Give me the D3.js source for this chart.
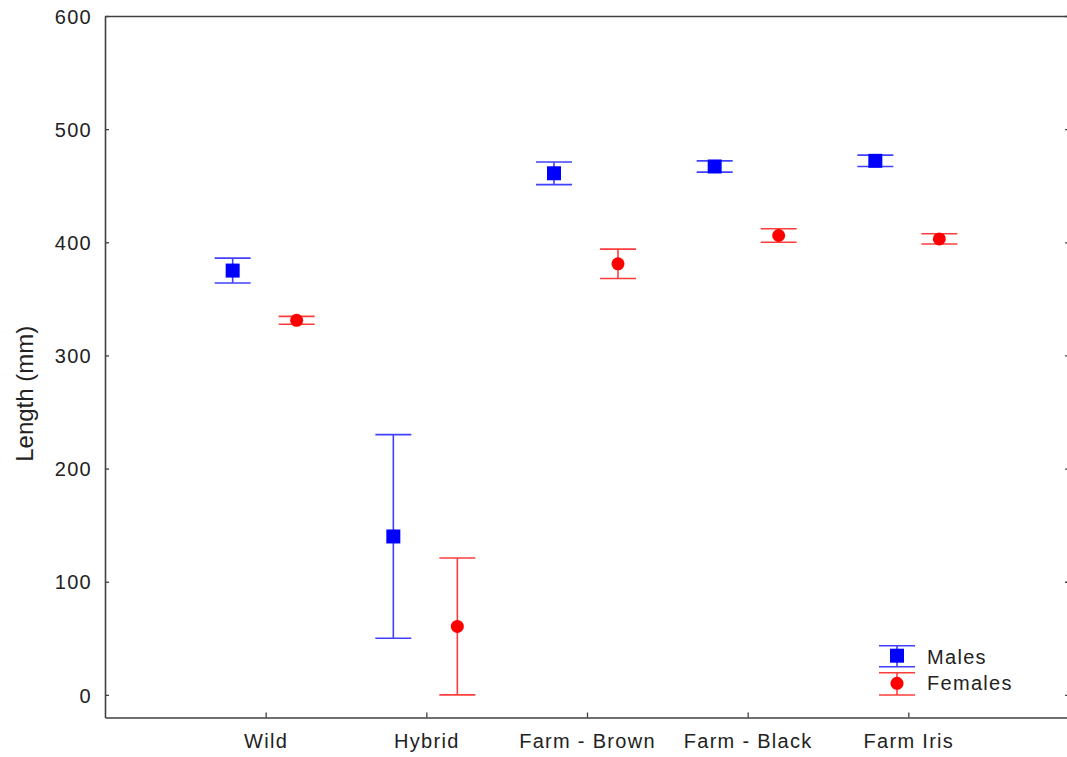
<!DOCTYPE html>
<html>
<head>
<meta charset="utf-8">
<script src="https://cdn.jsdelivr.net/npm/d3@7"></script>
<style>
  html, body { margin: 0; padding: 0; background: #fff; }
  svg { display: block; }
  text { font-family: "Liberation Sans", Arial, sans-serif; fill: #222; }
</style>
</head>
<body>
<script>
// Body length by fish origin and sex: mean ± error
const categories = ["Wild", "Hybrid", "Farm - Brown", "Farm - Black", "Farm Iris"];
const maleMean   = [375, 140, 461, 467, 472];
const maleErr    = [11, 90, 10, 5, 5];
const femaleMean = [331, 60.5, 381, 406, 403];
const femaleErr  = [3.5, 60.5, 13, 6, 4.5];
const yTicks     = [0, 100, 200, 300, 400, 500, 600];
const yLabel     = "Length (mm)";
const seriesNames = ["Males", "Females"];

const W = 1067, H = 757;
const m = { left: 105, right: 1069, top: 16, bottom: 717.5 };

const svg = d3.select("body").append("svg")
  .attr("width", W).attr("height", H);

const x = d3.scalePoint().domain(categories).range([m.left, m.right]).padding(1);
const y = d3.scaleLinear().domain([-20, 600]).range([m.bottom, m.top]);

const frameColor = "#404040";
const tickFont = { size: "20px", spacing: "1.3px" };

// Axes with inward ticks
const gLeft = svg.append("g").attr("transform", `translate(${m.left},0)`)
  .call(d3.axisLeft(y).tickValues(yTicks).tickSize(-4).tickPadding(13).tickSizeOuter(0));
const gRight = svg.append("g").attr("transform", `translate(${m.right},0)`)
  .call(d3.axisRight(y).tickValues(yTicks).tickSize(-4).tickFormat("").tickSizeOuter(0));
const gBottom = svg.append("g").attr("transform", `translate(0,${m.bottom})`)
  .call(d3.axisBottom(x).tickSize(-5).tickPadding(16).tickSizeOuter(0));
const gTop = svg.append("g").attr("transform", `translate(0,${m.top})`)
  .call(d3.axisTop(x).tickValues([]).tickSizeOuter(0));

[gLeft, gRight, gBottom, gTop].forEach(g => {
  g.selectAll(".domain").attr("stroke", frameColor).attr("stroke-width", 1.6);
  g.selectAll(".tick line").attr("stroke", frameColor).attr("stroke-width", 1.3);
  g.selectAll("text")
    .style("font-family", '"Liberation Sans", Arial, sans-serif')
    .style("font-size", tickFont.size)
    .style("letter-spacing", tickFont.spacing)
    .attr("fill", "#222");
});
gLeft.selectAll("text").attr("dy", "0.36em");

// Y axis title
svg.append("text")
  .attr("transform", `translate(33,${(y(600) + y(-20)) / 2 + 27}) rotate(-90)`)
  .attr("text-anchor", "middle")
  .style("font-size", "24px")
  .text(yLabel);

const series = [
  { name: seriesNames[0], mean: maleMean, err: maleErr, dx: -33,
    line: "#4040ff", fill: "#0000ff", shape: "square" },
  { name: seriesNames[1], mean: femaleMean, err: femaleErr, dx: 31,
    line: "#ff3c3c", fill: "#ff0000", shape: "circle" }
];

const capHalf = 18;

function drawMarker(g, s, cx, cy) {
  if (s.shape === "square") {
    g.append("rect").attr("x", cx - 7).attr("y", cy - 7)
      .attr("width", 14).attr("height", 14).attr("fill", s.fill);
  } else {
    g.append("circle").attr("cx", cx).attr("cy", cy).attr("r", 6.5).attr("fill", s.fill);
  }
}

function drawErrorBar(g, s, cx, yHi, yLo) {
  g.append("line").attr("x1", cx).attr("x2", cx).attr("y1", yHi).attr("y2", yLo)
    .attr("stroke", s.line).attr("stroke-width", 1.6);
  [yHi, yLo].forEach(yy => g.append("line")
    .attr("x1", cx - capHalf).attr("x2", cx + capHalf).attr("y1", yy).attr("y2", yy)
    .attr("stroke", s.line).attr("stroke-width", 1.6));
}

series.forEach(s => {
  const g = svg.append("g").attr("class", "series");
  categories.forEach((c, i) => {
    const cx = x(c) + s.dx;
    drawErrorBar(g, s, cx, y(s.mean[i] + s.err[i]), y(s.mean[i] - s.err[i]));
    drawMarker(g, s, cx, y(s.mean[i]));
  });
});

// Legend
const legend = svg.append("g").attr("transform", "translate(897,0)");
const legendRows = [
  { top: 645.7, bottom: 666.7, mid: 655.7, base: 663.5 },
  { top: 672.7, bottom: 695, mid: 683.3, base: 689.5 }
];
series.forEach((s, i) => {
  const r = legendRows[i];
  drawErrorBar(legend, s, 0, r.top, r.bottom);
  drawMarker(legend, s, 0, r.mid);
  legend.append("text").attr("x", 30).attr("y", r.base)
    .style("font-size", tickFont.size).style("letter-spacing", tickFont.spacing)
    .text(s.name);
});
</script>
</body>
</html>
